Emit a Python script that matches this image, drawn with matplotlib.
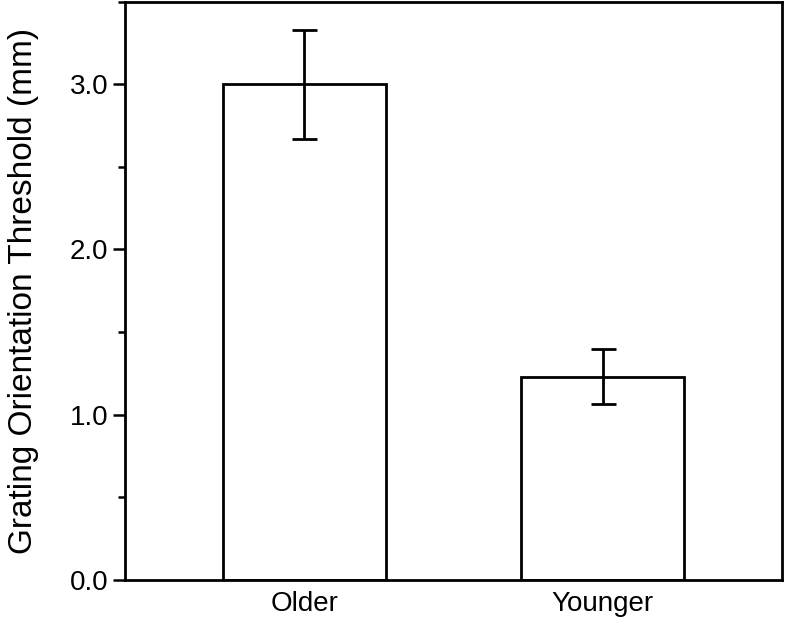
import matplotlib
matplotlib.use('Agg')
import matplotlib.pyplot as plt
from matplotlib.ticker import MultipleLocator

groups = ['Older', 'Younger']
means = [3.0, 1.23]
errs = [0.33, 0.165]

plt.rcParams['font.family'] = ['Liberation Sans', 'DejaVu Sans']

fig = plt.figure(figsize=(7.86, 6.24), dpi=100)
ax = fig.add_axes([0.159, 0.0705, 0.836, 0.927])

x = range(len(groups))
ax.bar(x, means, width=0.545, color='white', edgecolor='black', linewidth=2)
ax.errorbar(x, means, yerr=errs, fmt='none', ecolor='black', elinewidth=2,
            capsize=9, capthick=2)

ax.set_xlim(-0.6, 1.6)
ax.set_ylim(0, 3.5)
ax.set_xticks(list(x))
ax.set_xticklabels(groups)
ax.yaxis.set_major_locator(MultipleLocator(1.0))
ax.yaxis.set_minor_locator(MultipleLocator(0.5))
ax.yaxis.set_major_formatter(plt.FormatStrFormatter('%.1f'))
ax.tick_params(axis='x', length=0, labelsize=20, pad=8)
ax.tick_params(axis='y', which='major', length=9, width=1.8, labelsize=20, pad=3)
ax.tick_params(axis='y', which='minor', length=5, width=1.8)
for s in ax.spines.values():
    s.set_linewidth(2)
ax.set_ylabel('Grating Orientation Threshold (mm)', fontsize=24)
ax.yaxis.set_label_coords(-0.131, 0.5)

fig.savefig('out.png', dpi=100)
